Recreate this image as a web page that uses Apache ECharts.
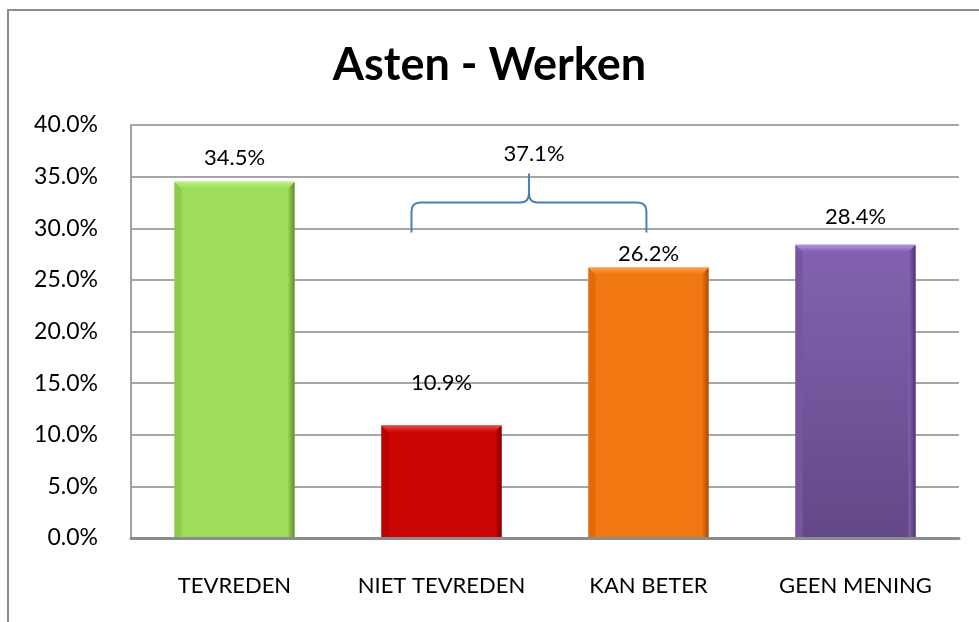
<!DOCTYPE html>
<html>
<head>
<meta charset="utf-8">
<script src="https://cdn.jsdelivr.net/npm/echarts@6/dist/echarts.min.js"></script>
<style>
  html, body { margin: 0; padding: 0; background: #fff; }
  #chart { width: 979px; height: 622px; }
</style>
</head>
<body>
<div id="chart"></div>
<script>
// data
const categories = ['TEVREDEN', 'NIET TEVREDEN', 'KAN BETER', 'GEEN MENING']
const percents = [34.5, 10.9, 26.2, 28.4]
const yTicks = [0, 5, 10, 15, 20, 25, 30, 35, 40]
// brace over 'NIET TEVREDEN' + 'KAN BETER'
const braceFrom = 1
const braceTo = 2
const braceLabel = '37.1%'

// styling (not data)
const barColors = [
  {main: '#9ddd5a', light: '#b9f07e', dark: '#5e8c2c', side: '#8ccb4c'},
  {main: '#cc0505', light: '#f24545', dark: '#7e0000', side: '#b80404'},
  {main: '#f07712', light: '#faa449', dark: '#a84c00', side: '#e06a0c'},
  {main: '#8462b0', light: '#b392e6', dark: '#4c3670', side: '#7656a2', bottom: '#634888'}
]
const labelLift = [24, 43, 14, 28] // label placement above bar top, px
const font = 'Lato, "Open Sans", sans-serif'

const chart = echarts.init(document.getElementById('chart'))

const renderBar = (params, api) => {
  const idx = api.value(0)
  const val = api.value(1)
  const top = api.coord([idx, val])
  const base = api.coord([idx, 0])
  const band = api.size([1, 0])[0]
  const w = band * 0.58
  const x0 = top[0] - w / 2
  const x1 = top[0] + w / 2
  const y0 = top[1]
  const y1 = base[1] - 1
  const b = 7
  const c = barColors[idx]
  return {
    type: 'group',
    children: [
      {
        type: 'rect',
        shape: {x: x0, y: y0, width: w, height: y1 - y0},
        style: {
          fill: new echarts.graphic.LinearGradient(0, 0, 0, 1, [
            {offset: 0, color: c.main},
            {offset: 1, color: c.bottom || c.main}
          ])
        }
      },
      {
        type: 'polygon',
        shape: {points: [[x0, y0], [x0 + b, y0 + b], [x0 + b, y1], [x0, y1]]},
        style: {fill: c.side}
      },
      {
        type: 'polygon',
        shape: {points: [[x1, y0], [x1 - b, y0 + b], [x1 - b, y1], [x1, y1]]},
        style: {
          fill: new echarts.graphic.LinearGradient(0, 0, 1, 0, [
            {offset: 0, color: c.main},
            {offset: 1, color: c.dark}
          ])
        }
      },
      {
        type: 'polygon',
        shape: {points: [[x0, y0], [x1, y0], [x1 - b, y0 + b], [x0 + b, y0 + b]]},
        style: {
          fill: new echarts.graphic.LinearGradient(0, 0, 0, 1, [
            {offset: 0, color: c.light},
            {offset: 1, color: c.main}
          ])
        }
      },
      {
        type: 'text',
        style: {
          text: val.toFixed(1) + '%',
          x: top[0],
          y: y0 - labelLift[idx],
          align: 'center',
          verticalAlign: 'middle',
          font: '22px ' + font,
          fill: '#000'
        }
      }
    ]
  }
}

const renderBrace = (params, api) => {
  const band = api.size([1, 0])[0]
  const cL = api.coord([api.value(0), 0])[0] - band * 0.145
  const cR = api.coord([api.value(1), 0])[0] - band * 0.01
  const yTip = api.coord([0, 29.6])[1]
  const yArm = api.coord([0, 32.5])[1]
  const yPeak = api.coord([0, 35.3])[1]
  const cx = (cL + cR) / 2
  const r = 9
  const d = [
    `M${cL},${yTip}`, `L${cL},${yArm + r}`, `Q${cL},${yArm} ${cL + r},${yArm}`,
    `L${cx - r},${yArm}`, `Q${cx},${yArm} ${cx},${yArm - r}`, `L${cx},${yPeak}`,
    `M${cx},${yArm - r}`, `Q${cx},${yArm} ${cx + r},${yArm}`,
    `L${cR - r},${yArm}`, `Q${cR},${yArm} ${cR},${yArm + r}`, `L${cR},${yTip}`
  ].join(' ')
  return {
    type: 'group',
    children: [
      {
        type: 'path',
        shape: {pathData: d},
        style: {fill: null, stroke: '#4a7ebb', lineWidth: 2}
      },
      {
        type: 'text',
        style: {
          text: braceLabel,
          x: cx + 5,
          y: yPeak - 20,
          align: 'center',
          verticalAlign: 'middle',
          font: '22px ' + font,
          fill: '#000'
        }
      }
    ]
  }
}

chart.setOption({
  animation: false,
  title: {
    text: 'Asten - Werken',
    left: 'center',
    top: 38,
    textStyle: {fontFamily: font, fontWeight: 'bold', fontSize: 45, color: '#000'}
  },
  graphic: [{
    type: 'rect',
    shape: {x: 8, y: 10, width: 1000, height: 700},
    style: {fill: null, stroke: '#8c8c8c', lineWidth: 2},
    silent: true
  }],
  grid: {left: 131, right: 20, top: 125, bottom: 84},
  xAxis: {
    type: 'category',
    data: categories,
    axisLine: {show: true, lineStyle: {color: '#8c8c8c', width: 3}},
    axisTick: {show: false},
    axisLabel: {margin: 37, fontFamily: font, fontSize: 22, color: '#000', interval: 0}
  },
  yAxis: {
    type: 'value',
    min: yTicks[0],
    max: yTicks[yTicks.length - 1],
    interval: yTicks[1] - yTicks[0],
    axisLine: {show: true, lineStyle: {color: '#a0a0a0', width: 2}},
    axisTick: {show: false},
    splitLine: {lineStyle: {color: '#a6a6a6', width: 2}},
    axisLabel: {
      margin: 33,
      fontFamily: font,
      fontSize: 23,
      color: '#000',
      formatter: v => v.toFixed(1) + '%'
    }
  },
  series: [
    {
      type: 'custom',
      renderItem: renderBar,
      encode: {x: 0, y: 1},
      data: percents.map((v, i) => [i, v]),
      z: 3
    },
    {
      type: 'custom',
      renderItem: renderBrace,
      data: [[braceFrom, braceTo]],
      z: 4
    }
  ]
})
</script>
</body>
</html>
